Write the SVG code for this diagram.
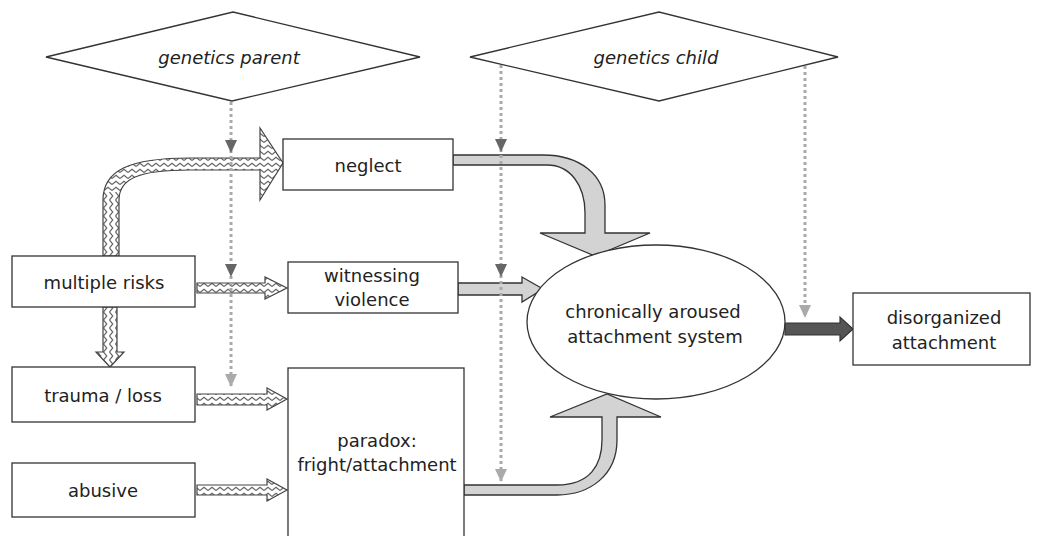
<svg xmlns="http://www.w3.org/2000/svg" width="1041" height="536" viewBox="0 0 1041 536">
<style>
.box{fill:#fff;stroke:#333;stroke-width:1.3}
.t{font-family:"DejaVu Sans","Liberation Sans",sans-serif;font-size:18px;fill:#222;text-anchor:middle}
.it{font-style:italic}
.hatch{fill:url(#zz);stroke:#444;stroke-width:1.2}
.hatchv{fill:url(#zzv);stroke:#444;stroke-width:1.2}
.gray{fill:#d3d3d3;stroke:#333;stroke-width:1.3}
.dark{fill:#555;stroke:#333;stroke-width:1.2}
.dot{fill:none;stroke:#aaa;stroke-width:3;stroke-dasharray:3 3}
.ahd{fill:#666}
.ahl{fill:#aaa}
</style>
<defs>
<pattern id="zz" width="8" height="6" patternUnits="userSpaceOnUse">
<rect width="8" height="6" fill="#fff"/>
<path d="M0 4.5 L4 1.2 L8 4.5" fill="none" stroke="#666" stroke-width="1.2"/>
</pattern>
<pattern id="zzv" width="8" height="6" patternUnits="userSpaceOnUse" patternTransform="rotate(90)">
<rect width="8" height="6" fill="#fff"/>
<path d="M0 4.5 L4 1.2 L8 4.5" fill="none" stroke="#666" stroke-width="1.2"/>
</pattern>
<path id="ah" d="M-6 -13 L6 -13 L0 0 Z"/>
<clipPath id="curveClip">
<path d="M103 256 L103 200 C103 170 130 158 190 158 L260 158 L260 128 L283 163 L260 200 L260 170 L190 170 C140 170 119 178 119 200 L119 256 Z"/>
</clipPath>
</defs>
<rect width="1041" height="536" fill="#fff"/>

<g id="connectors">
<g id="mr-neglect">
<path d="M103 256 L103 200 C103 170 130 158 190 158 L260 158 L260 128 L283 163 L260 200 L260 170 L190 170 C140 170 119 178 119 200 L119 256 Z" fill="url(#zz)"/>
<rect x="100" y="192" width="22" height="66" fill="url(#zzv)" clip-path="url(#curveClip)"/>
<path d="M103 256 L103 200 C103 170 130 158 190 158 L260 158 L260 128 L283 163 L260 200 L260 170 L190 170 C140 170 119 178 119 200 L119 256 Z" fill="none" stroke="#444" stroke-width="1.2"/>
</g>
<path id="mr-witness" class="hatch" d="M197 283 L265 283 L265 277 L287 288 L265 299 L265 293 L197 293 Z"/>
<path id="mr-trauma" class="hatchv" d="M103 307 L103 352 L96 352 L110 367 L124 352 L117 352 L117 307 Z"/>
<path id="trauma-paradox" class="hatch" d="M197 394 L267 394 L267 388 L287 399 L267 410 L267 405 L197 405 Z"/>
<path id="abusive-paradox" class="hatch" d="M197 485 L267 485 L267 479 L287 490 L267 501 L267 495 L197 495 Z"/>
<path id="neglect-ellipse" class="gray" d="M453 155 L543 155 C580 155 605 175 605 205 L605 233 L650 233 L595 256 L540 233 L585 233 L585 213 C585 185 570 165 547 165 L453 165 Z"/>
<path id="witness-ellipse" class="gray" d="M458 283 L522 283 L522 277 L543 289 L522 302 L522 295 L458 295 Z"/>
<path id="paradox-ellipse" class="gray" d="M464 485 L557 485 C590 485 602 465 602 440 L602 417 L550 417 L607 394 L661 417 L617 417 L617 440 C617 475 590 495 557 495 L464 495 Z"/>
<path id="ellipse-disorg" class="dark" d="M785 323 L840 323 L840 317 L853 329 L840 341 L840 335 L785 335 Z"/>
</g>

<g id="node-parent">
<polygon class="box" points="46,57 233,12 420,57 232,101"/>
<text class="t it" x="229" y="64">genetics parent</text>
</g>
<g id="node-child">
<polygon class="box" points="470,57 659,12 838,57 659,101"/>
<text class="t it" x="656" y="64">genetics child</text>
</g>
<g id="node-neglect">
<rect class="box" x="283" y="139" width="170" height="51"/>
<text class="t" x="368" y="172">neglect</text>
</g>
<g id="node-witness">
<rect class="box" x="288" y="262" width="170" height="51"/>
<text class="t" x="372" y="282">witnessing</text>
<text class="t" x="372" y="306">violence</text>
</g>
<g id="node-multiple">
<rect class="box" x="12" y="256" width="183" height="51"/>
<text class="t" x="104" y="289">multiple risks</text>
</g>
<g id="node-trauma">
<rect class="box" x="12" y="367" width="183" height="55"/>
<text class="t" x="103" y="402">trauma / loss</text>
</g>
<g id="node-abusive">
<rect class="box" x="12" y="463" width="183" height="54"/>
<text class="t" x="103" y="497">abusive</text>
</g>
<g id="node-paradox">
<rect class="box" x="288" y="368" width="176" height="170"/>
<text class="t" x="377" y="447">paradox:</text>
<text class="t" x="377" y="471">fright/attachment</text>
</g>
<g id="node-ellipse">
<ellipse class="box" cx="656" cy="322" rx="129" ry="77"/>
<text class="t" x="653" y="318">chronically aroused</text>
<text class="t" x="655" y="343">attachment system</text>
</g>
<g id="node-disorg">
<rect class="box" x="853" y="293" width="177" height="72"/>
<text class="t" x="944" y="324">disorganized</text>
<text class="t" x="944" y="349">attachment</text>
</g>

<g id="genetic-influences">
<line class="dot" x1="231" y1="102" x2="231" y2="386"/>
<line class="dot" x1="501" y1="65" x2="501" y2="481"/>
<line class="dot" x1="805" y1="66" x2="805" y2="317"/>
<use href="#ah" class="ahd" x="231" y="153"/>
<use href="#ah" class="ahd" x="231" y="277"/>
<use href="#ah" class="ahl" x="231" y="387"/>
<use href="#ah" class="ahd" x="501" y="152"/>
<use href="#ah" class="ahd" x="501" y="277"/>
<use href="#ah" class="ahl" x="501" y="482"/>
<use href="#ah" class="ahl" x="805" y="318"/>
</g>
</svg>
